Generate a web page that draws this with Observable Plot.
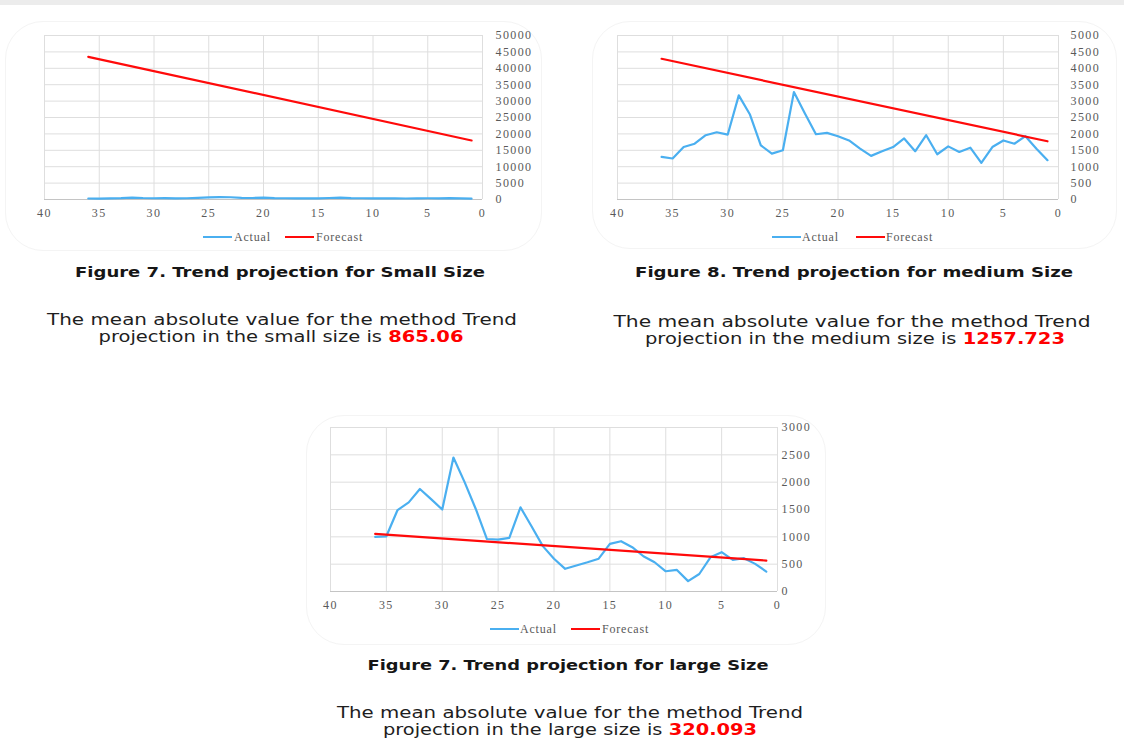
<!DOCTYPE html>
<html>
<head>
<meta charset="utf-8">
<script src="https://cdn.jsdelivr.net/npm/d3@7"></script>
<script src="https://cdn.jsdelivr.net/npm/@observablehq/plot@0.6"></script>
<style>
  html, body { margin: 0; padding: 0; background: #fff; }
  #page { position: relative; width: 1124px; height: 740px; overflow: hidden; background: #fff; }
  .strip { position: absolute; left: 0; top: 0; width: 1124px; height: 5px; background: #ececec; }
  .card { position: absolute; border: 1.5px solid #f4f4f4; border-radius: 38px; box-sizing: border-box; }
  .chart { position: absolute; }
  .chart svg text { letter-spacing: 1.4px; }
  .lg { position: absolute; font-family: "Liberation Serif", serif; font-size: 12px; color: #595959; letter-spacing: 0.8px; line-height: 12px; white-space: nowrap; }
  .sw { position: absolute; height: 2px; }
  .txt { position: absolute; white-space: nowrap; transform-origin: center center; font-family: "DejaVu Sans", sans-serif; color: #1e1e1e; }
  .cap { font-weight: bold; font-size: 14px; color: #161616; }
  .par { font-size: 15px; }
  .num { color: #ff0000; font-weight: bold; }
</style>
</head>
<body>
<div id="page">
  <div class="strip"></div>
  <div class="card" style="left:5px;top:21px;width:537px;height:230px;"></div>
  <div class="card" style="left:592px;top:21px;width:525px;height:228px;"></div>
  <div class="card" style="left:306px;top:415px;width:520px;height:230px;"></div>
</div>
<script>
// ---- data ----
const periods = [36,35,34,33,32,31,30,29,28,27,26,25,24,23,22,21,20,19,18,17,16,15,14,13,12,11,10,9,8,7,6,5,4,3,2,1];
const forecastPeriods = [36, 1];

const smallActual = [300,250,350,420,600,450,380,400,350,380,500,650,700,680,500,450,600,420,380,350,330,360,450,600,420,380,350,330,380,300,350,380,360,400,320,250];
const smallForecast = [43500, 18000];

const mediumActual = [1300,1250,1600,1700,1960,2050,1980,3175,2600,1650,1400,1500,3275,2620,1990,2030,1930,1800,1550,1330,1470,1600,1860,1470,1960,1380,1620,1450,1580,1115,1600,1800,1700,1930,1550,1200];
const mediumForecast = [4290, 1775];

const largeActual = [1000,1010,1490,1630,1875,1690,1500,2450,2000,1510,960,950,980,1540,1190,830,600,415,475,535,600,870,920,810,645,535,370,395,190,320,625,720,580,610,505,365];
const largeForecast = [1053, 566];

const xTicks = [40,35,30,25,20,15,10,5,0];
const smallTicks = [0,5000,10000,15000,20000,25000,30000,35000,40000,45000,50000];
const mediumTicks = [0,500,1000,1500,2000,2500,3000,3500,4000,4500,5000];
const largeTicks = [0,500,1000,1500,2000,2500,3000];

const seriesNames = ["Actual", "Forecast"];
const blue = "#4aaff0";
const red = "#ff0a0a";

const captions = [
  {text: "Figure 7. Trend projection for Small Size", cx: 280, cy: 272, w: 410},
  {text: "Figure 8. Trend projection for medium Size", cx: 854, cy: 272, w: 438},
  {text: "Figure 7. Trend projection for large Size", cx: 567.5, cy: 665, w: 401}
];
const paragraphs = [
  {l1: "The mean absolute value for the method Trend", l2: "projection in the small size is ", num: "865.06", cx1: 282, cy1: 320, w1: 470, cx2: 280.5, cy2: 337, w2: 365},
  {l1: "The mean absolute value for the method Trend", l2: "projection in the medium size is ", num: "1257.723", cx1: 851.5, cy1: 322, w1: 477, cx2: 855, cy2: 339, w2: 420},
  {l1: "The mean absolute value for the method Trend", l2: "projection in the large size is ", num: "320.093", cx1: 570, cy1: 713, w1: 466, cx2: 570, cy2: 730, w2: 374}
];

// ---- drawing ----
const page = document.getElementById("page");

function makeChart(actual, forecast, yTicks, pos) {
  const actualData = periods.map((p, i) => ({p, v: actual[i]}));
  const fcData = forecastPeriods.map((p, i) => ({p, v: forecast[i]}));
  const svg = Plot.plot({
    width: pos.width, height: pos.height,
    marginLeft: pos.mL, marginRight: pos.mR, marginTop: pos.mT, marginBottom: pos.mB,
    style: {fontFamily: "'Liberation Serif', serif", fontSize: "12px", color: "#595959", background: "transparent", overflow: "visible"},
    x: {domain: [40, 0], ticks: xTicks, tickSize: 0, tickPadding: 9, label: null, tickFormat: d => String(d)},
    y: {domain: [0, yTicks[yTicks.length - 1]], ticks: yTicks, axis: "right", tickSize: 0, tickPadding: pos.yPad, label: null, tickFormat: d => String(d)},
    marks: [
      Plot.gridX(xTicks, {stroke: "#dedede", strokeOpacity: 1, strokeWidth: 1}),
      Plot.gridY(yTicks, {stroke: "#dedede", strokeOpacity: 1, strokeWidth: 1}),
      Plot.ruleY([0], {stroke: "#c4c4c4", strokeWidth: 1}),
      Plot.line(actualData, {x: "p", y: "v", stroke: blue, strokeWidth: 2.2}),
      Plot.line(fcData, {x: "p", y: "v", stroke: red, strokeWidth: 2.2})
    ]
  });
  const div = document.createElement("div");
  div.className = "chart";
  div.style.left = pos.left + "px";
  div.style.top = pos.top + "px";
  div.appendChild(svg);
  page.appendChild(div);

  // legend
  const lg = pos.legend;
  [[lg.s1, blue, lg.t1, seriesNames[0]], [lg.s2, red, lg.t2, seriesNames[1]]].forEach(([sx, col, tx, name]) => {
    const sw = document.createElement("div");
    sw.className = "sw";
    sw.style.left = sx + "px"; sw.style.width = "29px"; sw.style.top = (lg.y - 1) + "px"; sw.style.background = col;
    page.appendChild(sw);
    const t = document.createElement("div");
    t.className = "lg";
    t.style.left = tx + "px"; t.style.top = (lg.y - 6) + "px";
    t.textContent = name;
    page.appendChild(t);
  });
}

makeChart(smallActual, smallForecast, smallTicks,
  {left: 0, top: 20, width: 560, height: 200, mL: 44, mR: 78, mT: 15, mB: 21, yPad: 13,
   legend: {y: 237, s1: 203, t1: 234, s2: 285, t2: 316}});
makeChart(mediumActual, mediumForecast, mediumTicks,
  {left: 573, top: 20, width: 551, height: 200, mL: 44, mR: 66, mT: 15, mB: 21, yPad: 12,
   legend: {y: 237, s1: 772, t1: 802, s2: 856, t2: 886}});
makeChart(largeActual, largeForecast, largeTicks,
  {left: 286, top: 412, width: 540, height: 200, mL: 44, mR: 49, mT: 15, mB: 21, yPad: 4,
   legend: {y: 629, s1: 490, t1: 520, s2: 571, t2: 602}});

// captions and paragraphs
function placeText(html, cls, cx, cy, w) {
  const d = document.createElement("div");
  d.className = "txt " + cls;
  d.innerHTML = html;
  d.style.left = cx + "px";
  d.style.top = cy + "px";
  page.appendChild(d);
  const nat = d.getBoundingClientRect().width;
  const k = nat > 0 ? w / nat : 1;
  d.style.transform = `translate(-50%, -50%) scaleX(${k})`;
}
captions.forEach(c => placeText(c.text, "cap", c.cx, c.cy, c.w));
paragraphs.forEach(p => {
  placeText(p.l1, "par", p.cx1, p.cy1, p.w1);
  placeText(p.l2 + `<span class="num">${p.num}</span>`, "par", p.cx2, p.cy2, p.w2);
});
</script>
</body>
</html>
